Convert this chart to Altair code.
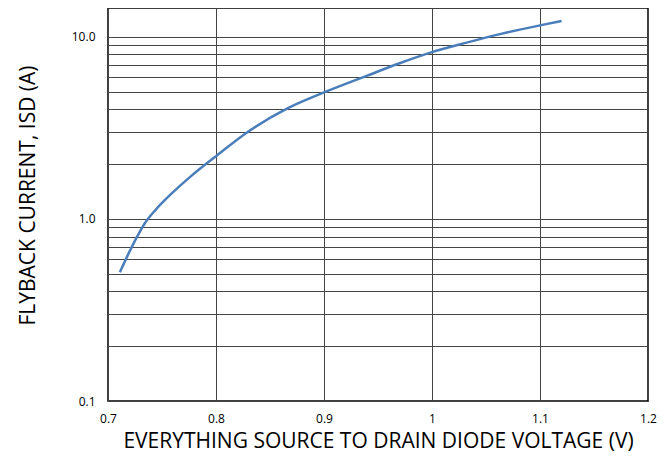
import altair as alt
import pandas as pd

voltage = [0.711, 0.719, 0.727, 0.734, 0.744, 0.759, 0.778, 0.80, 0.83, 0.867,
           0.90, 0.94, 0.97, 1.00, 1.032, 1.063, 1.10, 1.12]
current = [0.51, 0.645, 0.80, 0.944, 1.12, 1.38, 1.74, 2.21, 3.02, 4.07,
           4.95, 6.12, 7.16, 8.24, 9.29, 10.35, 11.56, 12.22]

x_ticks = [0.7, 0.8, 0.9, 1.0, 1.1, 1.2]
y_grid = [0.1, 0.2, 0.3, 0.4, 0.5, 0.6, 0.7, 0.8, 0.9,
          1, 2, 3, 4, 5, 6, 7, 8, 9, 10]

df = pd.DataFrame({"v": voltage, "i": current})

FONT = "Open Sans"

chart = alt.Chart(df).mark_line(color="#4a7ebb", strokeWidth=2.5, interpolate="monotone").encode(
    x=alt.X("v:Q",
            scale=alt.Scale(domain=[0.7, 1.2], nice=False, zero=False),
            axis=alt.Axis(values=x_ticks, labelExpr="toString(datum.value)",
                          title="EVERYTHING SOURCE TO DRAIN DIODE VOLTAGE (V)",
                          grid=True, gridColor="#444", gridWidth=1, gridOpacity=1,
                          ticks=False, domain=False,
                          labelFont=FONT, labelFontSize=12, labelColor="#000",
                          labelPadding=12, labelFlush=False,
                          titleFont=FONT, titleFontSize=21, titleFontWeight="normal",
                          titleColor="#000", titleBaseline="middle", titleY=40)),
    y=alt.Y("i:Q",
            scale=alt.Scale(type="log", domain=[0.1, 14.4], nice=False),
            axis=alt.Axis(values=y_grid,
                          labelExpr="datum.value == 0.1 || datum.value == 1 || datum.value == 10 ? format(datum.value, '.1f') : ''",
                          title="FLYBACK CURRENT, ISD (A)",
                          grid=True, gridColor="#444", gridWidth=1, gridOpacity=1,
                          ticks=False, domain=False,
                          labelFont=FONT, labelFontSize=12, labelColor="#000",
                          labelPadding=13,
                          titleFont=FONT, titleFontSize=21, titleFontWeight="normal",
                          titleColor="#000", titleBaseline="middle", titleAlign="center",
                          titleX=-80, titleY=187)),
).properties(
    width=540, height=393,
    autosize=alt.AutoSizeParams(type="none"),
    padding={"left": 100, "top": 0, "right": 15, "bottom": 56},
).configure_view(stroke="#000", strokeWidth=1.5)

chart.save("out.html", embed_options={"renderer": "svg", "actions": False})
